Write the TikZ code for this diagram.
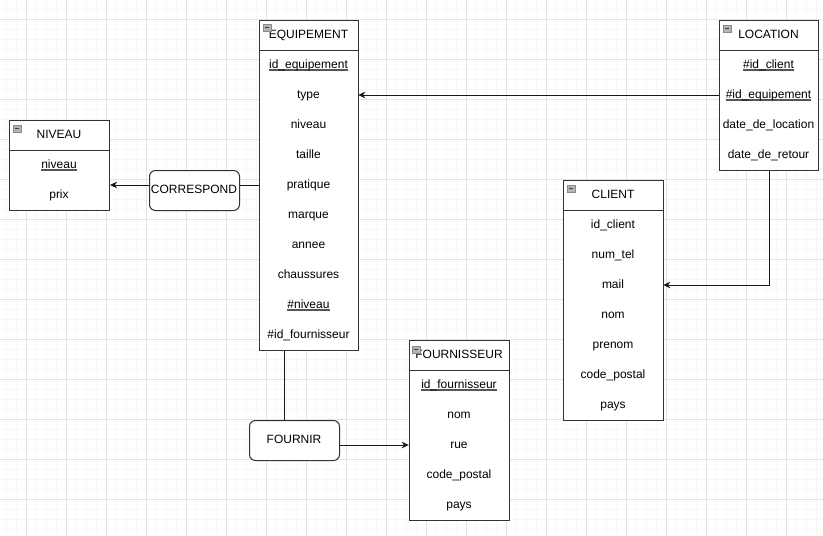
\documentclass[tikz,border=0pt]{standalone}
\usepackage{fontspec}
\setmainfont{Liberation Sans}
\usetikzlibrary{arrows.meta}

\definecolor{gridminor}{HTML}{F7F7F7}
\definecolor{gridmajor}{HTML}{E3E3E3}
\definecolor{edge}{HTML}{333333}
\definecolor{ulgray}{HTML}{555555}
\definecolor{iconfill}{HTML}{B4B4B4}
\definecolor{iconline}{HTML}{8A8A8A}

% underlined key attribute
\newcommand\keyattr[1]{\setbox0\hbox{#1}\rlap{\color{ulgray}\rule[-2.6pt]{\wd0}{1.3pt}}\box0}
% small collapse button in an entity header
\newcommand\minusicon[2]{%
  \filldraw[fill=iconfill,draw=iconline,line width=0.8pt] (#1,#2) rectangle ++(8,7);
  \draw[black!75,line width=1.2pt] (#1+1.8,#2+3.5) -- (#1+6.2,#2+3.5);}

\begin{document}
\begin{tikzpicture}[x=1pt,y=-1pt,
  every node/.style={font=\fontsize{12}{14}\selectfont,text height=8.6pt,text depth=2.6pt},
  entity/.style={draw=edge,line width=1pt,fill=white,inner sep=0pt,anchor=north west},
  hdr/.style={inner sep=0pt,minimum height=30pt},
  attr/.style={inner sep=0pt,minimum height=30pt},
  relation/.style={draw=edge,line width=1pt,fill=white,rounded corners=6pt,
                   inner sep=0pt,minimum width=90pt,minimum height=40pt,anchor=north west},
  link/.style={draw=black!90,line width=1pt},
  arrowlink/.style={link,-{Stealth[length=7pt,width=6.5pt,inset=2pt]}}]

\useasboundingbox (0,0) rectangle (823,536);
\fill[white] (0,0) rectangle (823,536);

% background grid
\foreach \x in {6.7,16.7,...,823} \draw[gridminor,line width=0.8pt] (\x,0) -- (\x,536);
\foreach \y in {9.3,19.3,...,536} \draw[gridminor,line width=0.8pt] (0,\y) -- (823,\y);
\foreach \x in {26.7,66.7,...,823} \draw[gridmajor,line width=1pt] (\x,0) -- (\x,536);
\foreach \y in {19.3,59.3,...,536} \draw[gridmajor,line width=1pt] (0,\y) -- (823,\y);

% ---------- EQUIPEMENT ----------
\node[entity,minimum width=99pt,minimum height=330pt] (equip) at (259,20) {};
\draw[edge,line width=1pt] (259,50) -- (358,50);
\node[hdr] (equip-h) at (308.5,35) {EQUIPEMENT};
\minusicon{263}{24}
\foreach \i/\t in {1/{\keyattr{id\_equipement}},2/type,3/niveau,4/taille,5/pratique,
                   6/marque,7/annee,8/chaussures,9/{\keyattr{\#niveau}},10/{\#id\_fournisseur}}
  \node[attr,minimum width=99pt] (equip-\i) at (308.5,35+30*\i) {\t};

% ---------- NIVEAU ----------
\node[entity,minimum width=100pt,minimum height=90pt] (niveau) at (9,120) {};
\draw[edge,line width=1pt] (9,150) -- (109,150);
\node[hdr] (niveau-h) at (59,135) {NIVEAU};
\minusicon{13}{125}
\node[attr,minimum width=100pt] (niveau-1) at (59,165) {\keyattr{niveau}};
\node[attr,minimum width=100pt] (niveau-2) at (59,195) {prix};

% ---------- LOCATION ----------
\node[entity,minimum width=99pt,minimum height=150pt] (loc) at (719,20) {};
\draw[edge,line width=1pt] (719,50) -- (818,50);
\node[hdr] (loc-h) at (768.5,35) {LOCATION};
\minusicon{723}{25}
\foreach \i/\t in {1/{\keyattr{\#id\_client}},2/{\keyattr{\#id\_equipement}},
                   3/date\_de\_location,4/date\_de\_retour}
  \node[attr,minimum width=99pt] (loc-\i) at (768.5,35+30*\i) {\t};

% ---------- CLIENT ----------
\node[entity,minimum width=100pt,minimum height=240pt] (client) at (563,180) {};
\draw[edge,line width=1pt] (563,210) -- (663,210);
\node[hdr] (client-h) at (613,195) {CLIENT};
\minusicon{567}{185}
\foreach \i/\t in {1/id\_client,2/num\_tel,3/mail,4/nom,5/prenom,6/code\_postal,7/pays}
  \node[attr,minimum width=100pt] (client-\i) at (613,195+30*\i) {\t};

% ---------- FOURNISSEUR ----------
\node[entity,minimum width=100pt,minimum height=180pt] (four) at (409,340) {};
\draw[edge,line width=1pt] (409,370) -- (509,370);
\node[hdr] (four-h) at (459,355) {FOURNISSEUR};
\minusicon{412}{346}
\foreach \i/\t in {1/{\keyattr{id\_fournisseur}},2/nom,3/rue,4/code\_postal,5/pays}
  \node[attr,minimum width=100pt] (four-\i) at (459,355+30*\i) {\t};

% ---------- relations ----------
\node[relation] (correspond) at (149,170) {};
\node (correspond-t) at (194,190) {CORRESPOND};
\node[relation] (fournir) at (249,420) {};
\node (fournir-t) at (294,440) {FOURNIR};

% ---------- links ----------
\draw[link] (equip-5.west) -- (equip-5.west -| correspond.east);
\draw[arrowlink] (correspond.west |- equip-5.west) -- (niveau.east |- equip-5.west);
\draw[arrowlink] (loc-2.west) -- (equip-2.east);
\draw[arrowlink] (loc.south) |- (client-3.east);
\draw[link] ([xshift=25pt]equip.south west) -- ([xshift=25pt]equip.south west |- fournir.north);
\draw[arrowlink] (fournir.east |- four-3.west) -- (four-3.west);

\end{tikzpicture}
\end{document}
